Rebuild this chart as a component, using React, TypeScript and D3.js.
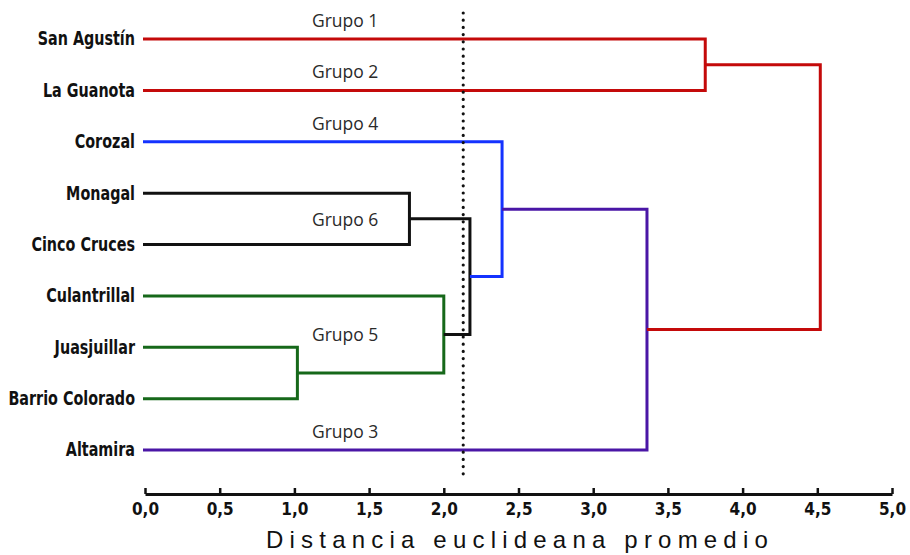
import * as d3 from "d3";
import { useEffect, useRef } from "react";

// leaves, top to bottom
const leaves = [
  "San Agustín",
  "La Guanota",
  "Corozal",
  "Monagal",
  "Cinco Cruces",
  "Culantrillal",
  "Juasjuillar",
  "Barrio Colorado",
  "Altamira",
];

// merges: [child A, child B, distance, colour]; ids 0-8 are leaves, merges get 9..
const mergeA = [0, 3, 6, 5, 10, 2, 14, 9];
const mergeB = [1, 4, 7, 11, 12, 13, 8, 15];
const mergeHeight = [3.75, 1.77, 1.02, 2.0, 2.175, 2.39, 3.36, 4.52];
const mergeColor = ["red", "black", "green", "green", "black", "blue", "purple", "red"];

const cutoff = 2.13;
const ticks = [0, 0.5, 1, 1.5, 2, 2.5, 3, 3.5, 4, 4.5, 5];

// group labels: text, anchor node, side ("above" a leaf line, "on" a merge node)
const groupText = ["Grupo 1", "Grupo 2", "Grupo 4", "Grupo 6", "Grupo 5", "Grupo 3"];
const groupNode = [0, 1, 2, 10, 12, 8];
const groupSide = ["above", "above", "above", "on", "on", "above"];

const palette: Record<string, string> = {
  red: "#c40a0a",
  black: "#111111",
  green: "#16681a",
  blue: "#1432ff",
  purple: "#4a16a6",
};

export default function App() {
  const svgRef = useRef<SVGSVGElement | null>(null);

  useEffect(() => {
    if (!svgRef.current) return;
    const svg = d3.select(svgRef.current);
    svg.selectAll("*").remove();

    const width = 910;
    const height = 555;
    svg.attr("width", width).attr("height", height);

    const x = d3.scaleLinear().domain([0, 5]).range([145, 892]);
    const y = d3.scalePoint<string>().domain(leaves).range([39, 450]);

    // node positions
    const nx: number[] = leaves.map(() => x(0) - 2);
    const ny: number[] = leaves.map((d) => y(d) as number);
    mergeHeight.forEach((h, i) => {
      nx.push(x(h));
      ny.push((ny[mergeA[i]] + ny[mergeB[i]]) / 2);
    });

    const g = svg.append("g").attr("fill", "none").attr("stroke-width", 3);

    mergeHeight.forEach((_, i) => {
      const a = mergeA[i];
      const b = mergeB[i];
      const px = nx[leaves.length + i];
      const p = d3.path();
      p.moveTo(nx[a], ny[a]);
      p.lineTo(px, ny[a]);
      p.lineTo(px, ny[b]);
      p.lineTo(nx[b], ny[b]);
      g.append("path")
        .attr("d", p.toString())
        .attr("stroke", palette[mergeColor[i]])
        .attr("stroke-linejoin", "miter");
    });

    // cut line
    svg
      .append("line")
      .attr("x1", x(cutoff))
      .attr("x2", x(cutoff))
      .attr("y1", 13)
      .attr("y2", 475)
      .attr("stroke", "#111")
      .attr("stroke-width", 3.2)
      .attr("stroke-linecap", "round")
      .attr("stroke-dasharray", "0 7.2");

    // leaf labels
    leaves.forEach((name, i) => {
      const lx = x(0) - 10;
      svg
        .append("text")
        .attr("transform", `translate(${lx},${ny[i]}) scale(0.84,1)`)
        .attr("text-anchor", "end")
        .attr("dominant-baseline", "central")
        .attr("font-family", "'DejaVu Sans Condensed', 'DejaVu Sans', sans-serif")
        .attr("font-weight", "bold")
        .attr("font-size", 19)
        .attr("fill", "#111")
        .text(name);
    });

    // group labels
    groupText.forEach((t, i) => {
      const n = groupNode[i];
      const ty = groupSide[i] === "above" ? ny[n] - 12 : ny[n] + 7;
      svg
        .append("text")
        .attr("x", x(1.34))
        .attr("y", ty)
        .attr("text-anchor", "middle")
        .attr("font-family", "'Open Sans', sans-serif")
        .attr("font-size", 17.5)
        .attr("fill", "#2a2a2a")
        .text(t);
    });

    // axis
    const axis = d3
      .axisBottom(x)
      .tickValues(ticks)
      .tickSizeInner(-6)
      .tickSizeOuter(0)
      .tickPadding(9)
      .tickFormat((d) => d3.format(".1f")(d as number).replace(".", ","));

    const ag = svg.append("g").attr("transform", "translate(0,494)").call(axis as any);
    ag.select(".domain").attr("stroke", "#111").attr("stroke-width", 3);
    ag.selectAll(".tick line").attr("stroke", "#111").attr("stroke-width", 2.5);
    ag.selectAll(".tick text")
      .attr("fill", "#111")
      .attr("font-family", "'DejaVu Sans Condensed', 'DejaVu Sans', sans-serif")
      .attr("font-weight", "bold")
      .attr("font-size", 17);

    svg
      .append("text")
      .attr("x", 520)
      .attr("y", 548)
      .attr("text-anchor", "middle")
      .attr("font-family", "'Liberation Sans', Arial, sans-serif")
      .attr("font-size", 24)
      .attr("letter-spacing", 6.2)
      .attr("fill", "#111")
      .text("Distancia euclideana promedio");
  }, []);

  return (
    <svg
      ref={svgRef}
      style={{ position: "absolute", left: 0, top: 0, background: "#fff" }}
    />
  );
}
